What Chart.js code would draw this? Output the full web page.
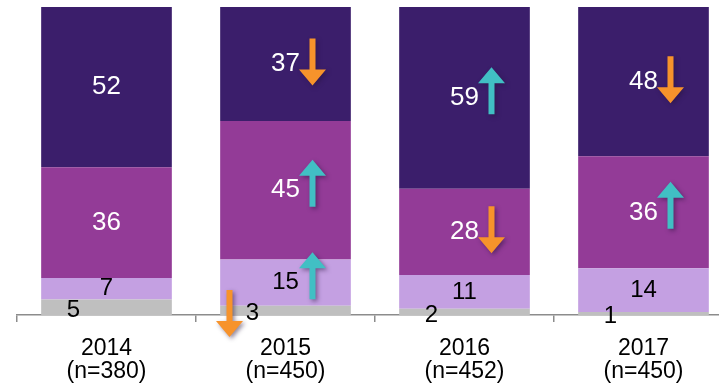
<!DOCTYPE html>
<html>
<head>
<meta charset="utf-8">
<script src="https://cdn.jsdelivr.net/npm/chart.js@4"></script>
<style>
  html, body { margin: 0; padding: 0; background: #fff; overflow: hidden; }
  #wrap { position: absolute; left: 0; top: 0; width: 740px; height: 386px; }
</style>
</head>
<body>
<div id="wrap"><canvas id="chart"></canvas></div>
<script>
// --- data ---
const years = ['2014', '2015', '2016', '2017'];
const sampleSizes = ['(n=380)', '(n=450)', '(n=452)', '(n=450)'];

const grayValues = [5, 3, 2, 1];
const lightValues = [7, 15, 11, 14];
const mediumValues = [36, 45, 28, 36];
const darkValues = [52, 37, 59, 48];

// change markers shown beside the numbers
const grayTrend = [null, 'down', null, null];
const lightTrend = [null, 'up', null, null];
const mediumTrend = [null, 'up', 'down', 'up'];
const darkTrend = [null, 'down', 'up', 'down'];

const ORANGE = '#f7932b';
const TEAL = '#41bfc4';

// 100% stacked: scale each column by its total
const totals = years.map((_, i) => grayValues[i] + lightValues[i] + mediumValues[i] + darkValues[i]);
const pct = arr => arr.map((v, i) => v / totals[i] * 100);

const series = [
    { raw: grayValues, trend: grayTrend, color: '#bfbfbf', text: '#000', kind: 'gray' },
    { raw: lightValues, trend: lightTrend, color: '#c4a0e2', text: '#000', kind: 'light' },
    { raw: mediumValues, trend: mediumTrend, color: '#933b97', text: '#fff', kind: 'medium' },
    { raw: darkValues, trend: darkTrend, color: '#3b1e6b', text: '#fff', kind: 'dark' }
];

function drawArrow(ctx, x, cy, dir, color) {
    const len = 47, headH = 16, headW = 27, shaft = 6;
    const top = cy - len / 2, bot = cy + len / 2;
    ctx.save();
    ctx.shadowColor = 'rgba(40, 20, 60, 0.5)';
    ctx.shadowBlur = 4;
    ctx.shadowOffsetX = 2;
    ctx.shadowOffsetY = 2;
    ctx.fillStyle = color;
    ctx.beginPath();
    if (dir === 'up') {
        ctx.moveTo(x, top);
        ctx.lineTo(x + headW / 2, top + headH);
        ctx.lineTo(x + shaft / 2, top + headH);
        ctx.lineTo(x + shaft / 2, bot);
        ctx.lineTo(x - shaft / 2, bot);
        ctx.lineTo(x - shaft / 2, top + headH);
        ctx.lineTo(x - headW / 2, top + headH);
    } else {
        ctx.moveTo(x, bot);
        ctx.lineTo(x + headW / 2, bot - headH);
        ctx.lineTo(x + shaft / 2, bot - headH);
        ctx.lineTo(x + shaft / 2, top);
        ctx.lineTo(x - shaft / 2, top);
        ctx.lineTo(x - shaft / 2, bot - headH);
        ctx.lineTo(x - headW / 2, bot - headH);
    }
    ctx.closePath();
    ctx.fill();
    ctx.restore();
}

const labelPlugin = {
    id: 'segmentLabels',
    afterDatasetsDraw(chart) {
        const ctx = chart.ctx;
        ctx.save();
        ctx.textAlign = 'center';
        ctx.textBaseline = 'middle';
        chart.data.datasets.forEach((ds, di) => {
            const s = series[di];
            chart.getDatasetMeta(di).data.forEach((bar, i) => {
                const cy = (bar.y + bar.base) / 2;
                let lx = bar.x, ly = cy;
                if (s.kind === 'gray') { lx = bar.x - 33; ly = cy + 3; }
                ctx.font = (s.text === '#fff' ? 26 : 24) + 'px "Liberation Sans", Arial, sans-serif';
                ctx.fillStyle = s.text;
                ctx.fillText(String(s.raw[i]), lx, ly);
                const t = s.trend[i];
                if (t) {
                    const col = t === 'up' ? TEAL : ORANGE;
                    if (s.kind === 'gray') {
                        drawArrow(ctx, bar.x - 56, cy + 3, t, col);
                    } else {
                        drawArrow(ctx, bar.x + 27, cy + (t === 'up' ? -7 : -2), t, col);
                    }
                }
            });
        });
        ctx.restore();
    }
};

new Chart(document.getElementById('chart').getContext('2d'), {
    type: 'bar',
    data: {
        labels: years.map((y, i) => [y, sampleSizes[i]]),
        datasets: series.map(s => ({
            data: pct(s.raw),
            backgroundColor: s.color,
            borderWidth: 0,
            barPercentage: 0.73,
            categoryPercentage: 1
        }))
    },
    options: {
        responsive: true,
        maintainAspectRatio: false,
        animation: false,
        layout: { padding: { left: 17, right: 7, top: 7, bottom: 0 } },
        plugins: { legend: { display: false }, tooltip: { enabled: false } },
        scales: {
            x: {
                stacked: true,
                offset: true,
                grid: { display: true, drawOnChartArea: false, drawTicks: true, tickLength: 7, color: '#8c8c8c', lineWidth: 1.5, offset: true },
                border: { display: true, color: '#8c8c8c', width: 1.5 },
                ticks: {
                    color: '#000',
                    padding: 15,
                    autoSkip: false,
                    maxRotation: 0,
                    font: { family: '"Liberation Sans", Arial, sans-serif', size: 23, lineHeight: 1.0 }
                },
                afterFit(scale) { scale.height = 71; }
            },
            y: { stacked: true, display: false, min: 0, max: 100 }
        }
    },
    plugins: [labelPlugin]
});
</script>
</body>
</html>
